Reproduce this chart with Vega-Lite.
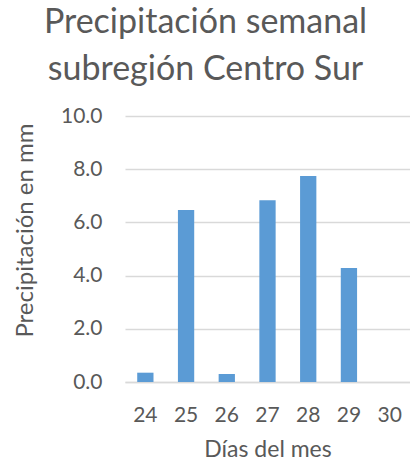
{
  "$schema": "https://vega.github.io/schema/vega-lite/v6.json",
  "autosize": "none",
  "width": 285,
  "height": 266,
  "padding": {"left": 125, "top": 116, "right": 0, "bottom": 79},
  "background": "white",
  "title": {
    "text": ["Precipitación semanal", "subregión Centro Sur"],
    "font": "Lato",
    "fontSize": 34,
    "fontWeight": "normal",
    "color": "#595959",
    "lineHeight": 47,
    "anchor": "middle",
    "frame": "group",
    "dx": -62,
    "offset": 18
  },
  "data": {
    "values": [
      {"dia": "24", "mm": 0.35},
      {"dia": "25", "mm": 6.47},
      {"dia": "26", "mm": 0.3},
      {"dia": "27", "mm": 6.83},
      {"dia": "28", "mm": 7.74},
      {"dia": "29", "mm": 4.29},
      {"dia": "30", "mm": 0}
    ]
  },
  "config": {
    "view": {"stroke": null},
    "axis": {
      "labelFont": "Lato",
      "titleFont": "Lato",
      "labelColor": "#595959",
      "titleColor": "#595959",
      "titleFontWeight": "normal"
    }
  },
  "mark": {"type": "bar", "color": "#5B9BD5"},
  "encoding": {
    "x": {
      "field": "dia",
      "type": "ordinal",
      "sort": null,
      "scale": {"paddingInner": 0.6, "paddingOuter": 0.3},
      "axis": {
        "title": "Días del mes",
        "titleFontSize": 23,
        "titlePadding": 13,
        "labelFontSize": 21,
        "labelAngle": 0,
        "labelPadding": 22,
        "ticks": false,
        "domainColor": "#d9d9d9",
        "domainWidth": 1.5
      }
    },
    "y": {
      "field": "mm",
      "type": "quantitative",
      "scale": {"domain": [0, 10]},
      "axis": {
        "title": "Precipitación en mm",
        "titleFontSize": 24,
        "titleBaseline": "alphabetic",
        "titleX": -93,
        "titleY": 114,
        "titleAngle": -90,
        "values": [0, 2, 4, 6, 8, 10],
        "format": ".1f",
        "labelFontSize": 21,
        "labelPadding": 23,
        "ticks": false,
        "domain": false,
        "gridColor": "#d9d9d9",
        "gridWidth": 1.5
      }
    }
  }
}
